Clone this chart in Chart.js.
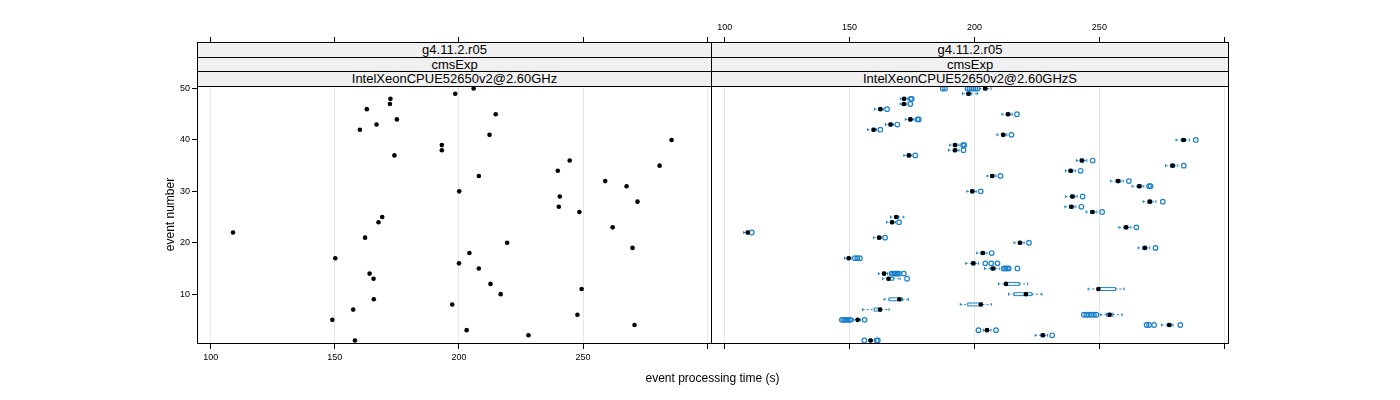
<!DOCTYPE html>
<html>
<head>
<meta charset="utf-8">
<script src="https://cdn.jsdelivr.net/npm/chart.js@4.4.0/dist/chart.umd.min.js"></script>
<style>
  body { margin: 0; background: #fff; }
  #wrap { position: relative; width: 1400px; height: 400px; font-family: "Liberation Sans", Arial, sans-serif; }
  #wrap canvas { position: absolute; left: 0; top: 0; }
  .strip { position: absolute; box-sizing: border-box; border: 1px solid #000; background: #f0f0f0;
           font-size: 13px; text-align: center; color: #000; }
  #xtitle { position: absolute; left: 197px; width: 1031px; top: 370px; font-size: 12px; line-height: 16px; text-align: center; }
</style>
</head>
<body>
<div id="wrap">
  <canvas id="left" width="1400" height="400"></canvas>
  <canvas id="right" width="1400" height="400"></canvas>
  <div id="strips"></div>
  <div id="xtitle">event processing time (s)</div>
</div>
<script>
// panel strip labels
var stripLevels = ['g4.11.2.r05', 'cmsExp'];
var cpuNames = ['IntelXeonCPUE52650v2@2.60GHz', 'IntelXeonCPUE52650v2@2.60GHzS'];

var events = [1, 2, 3, 4, 5, 6, 7, 8, 9, 10, 11, 12, 13, 14, 15, 16, 17, 18, 19, 20,
  21, 22, 23, 24, 25, 26, 27, 28, 29, 30, 31, 32, 33, 34, 35, 36, 37, 38, 39, 40,
  41, 42, 43, 44, 45, 46, 47, 48, 49, 50];

// left panel: one time per event
var singleTime = [158.1, 228.0, 203.1, 270.7, 149.0, 247.7, 157.4, 197.3, 165.7, 216.8,
  249.4, 212.7, 165.6, 164.0, 208.0, 200.0, 150.2, 204.2, 269.9, 219.4,
  162.2, 109.0, 261.9, 167.6, 169.1, 248.5, 240.2, 271.9, 240.6, 200.1,
  267.5, 258.9, 208.0, 239.8, 280.8, 244.6, 174.0, 193.1, 193.1, 285.6,
  212.3, 160.1, 166.8, 175.0, 214.8, 162.9, 172.2, 172.4, 198.5, 205.9];

// right panel: box plot stats per event
var whiskerLow = [157.6, 224.3, 203.6, 274.9, 151.6, 250.5, 155.2, 194.3, 163.8, 213.6,
  245.5, 209.6, 163.2, 161.5, 204.0, 196.5, 147.9, 200.9, 265.5, 215.8,
  159.6, 107.6, 257.8, 164.8, 166.4, 244.7, 236.2, 267.5, 236.4, 196.9,
  263.1, 254.5, 205.0, 236.4, 276.5, 240.8, 171.7, 189.6, 190.1, 280.7,
  209.0, 157.2, 164.3, 172.3, 211.0, 160.0, 170.2, 170.3, 195.2, 202.0];
var q1 = [158.1, 226.6, 204.5, 277.2, 152.7, 252.8, 159.8, 197.3, 165.8, 215.8,
  249.3, 212.3, 165.0, 163.2, 206.5, 198.8, 149.2, 202.6, 267.4, 217.5,
  161.2, 108.8, 259.9, 166.4, 168.0, 246.5, 238.0, 269.4, 238.4, 198.5,
  265.2, 256.7, 206.5, 237.8, 278.5, 242.3, 173.1, 191.5, 191.5, 282.9,
  210.8, 159.0, 165.8, 173.7, 212.7, 161.7, 171.3, 171.4, 196.9, 203.6];
var median = [158.4, 227.4, 205.0, 278.0, 153.2, 254.1, 162.2, 202.5, 169.9, 220.6,
  249.6, 212.6, 165.6, 163.8, 207.4, 199.5, 149.6, 203.3, 268.2, 218.2,
  161.8, 109.2, 260.7, 167.0, 168.7, 247.2, 238.8, 270.2, 239.2, 199.1,
  266.0, 257.5, 207.1, 238.5, 279.3, 243.0, 173.7, 192.2, 192.2, 283.7,
  211.5, 159.6, 166.4, 174.3, 213.4, 162.3, 171.7, 171.8, 197.6, 204.3];
var q3 = [158.8, 228.0, 205.6, 278.7, 153.8, 255.4, 162.7, 203.2, 171.1, 223.0,
  256.4, 217.9, 167.5, 164.4, 208.3, 200.3, 150.1, 204.0, 268.9, 218.9,
  162.3, 109.6, 261.4, 167.5, 169.4, 247.9, 239.5, 271.0, 240.0, 199.8,
  266.8, 258.3, 207.8, 239.3, 280.1, 243.8, 174.3, 192.9, 192.9, 284.5,
  212.2, 160.2, 167.0, 175.0, 214.2, 162.9, 172.2, 172.3, 198.6, 205.0];
var whiskerHigh = [159.2, 229.2, 206.6, 279.5, 154.4, 259.1, 165.8, 206.7, 173.5, 227.0,
  259.9, 221.3, 170.2, 165.2, 209.9, 201.6, 150.6, 205.0, 270.2, 219.9,
  162.9, 109.9, 262.6, 168.3, 171.7, 249.0, 240.6, 272.6, 241.1, 200.7,
  267.8, 259.5, 208.6, 240.4, 281.4, 245.0, 174.9, 193.8, 193.8, 286.0,
  213.0, 160.8, 167.6, 175.7, 215.1, 163.5, 172.9, 173.1, 201.2, 206.6];
var outliers = [
  [155.9, 160.8, 161.3], [231.1], [201.6, 208.6], [268.9, 269.9, 271.9, 282.4],
  [146.9, 147.6, 148.3, 149.0, 149.7, 150.4, 156.0], [243.8, 244.8, 245.8, 246.8, 247.8, 248.8],
  [], [], [], [], [], [], [173.0],
  [166.8, 167.4, 168.0, 168.6, 169.2, 169.8, 171.7], [211.7, 212.3, 213.0, 213.7, 217.2],
  [204.3, 206.7, 209.2], [152.1, 153.1, 154.1], [206.9], [272.5], [221.8],
  [164.2], [110.8], [264.8], [169.8], [], [251.1], [242.8], [275.4], [243.3], [202.5],
  [269.9, 270.5], [261.8], [210.4], [242.5], [283.8], [247.3], [176.3], [195.6], [195.4, 195.9], [288.6],
  [214.8], [162.3], [169.1], [177.2, 177.7], [217.0], [165.0], [174.3], [174.5, 174.9], [],
  [187.3, 188.2, 197.2, 198.0, 198.8, 199.6, 200.4, 201.2]
];

var xTicks = [100, 150, 200, 250, 300];
var yTicks = [10, 20, 30, 40, 50];
var xMin = 94.5, xMax = 301.5, yMin = 0.5, yMax = 50.5;

Chart.defaults.font.family = '"Liberation Sans", Arial, sans-serif';
Chart.defaults.color = '#000';

// strips as html
var strips = document.getElementById('strips');
var panelEdges = [[197, 712], [711, 1229]];
panelEdges.forEach(function (edge, p) {
  var texts = stripLevels.concat([cpuNames[p]]);
  texts.forEach(function (t, k) {
    var d = document.createElement('div');
    d.className = 'strip';
    d.style.left = edge[0] + 'px';
    d.style.width = (edge[1] - edge[0]) + 'px';
    d.style.top = (42 + k * 14.67) + 'px';
    d.style.height = '15.67px';
    d.style.lineHeight = '13.5px';
    d.textContent = t;
    strips.appendChild(d);
  });
});

function setTicks(list) {
  return function (s) { s.ticks = list.map(function (v) { return { value: v }; }); };
}
function labelsBut300(v) { return v === 300 ? '' : String(v); }
function noLabels() { return ''; }

var panelBox = {
  id: 'panelBox',
  afterDraw: function (chart) {
    var a = chart.chartArea, ctx = chart.ctx;
    ctx.save();
    ctx.strokeStyle = '#000';
    ctx.lineWidth = 1;
    ctx.strokeRect(Math.round(a.left) + 0.5, Math.round(a.top) + 0.5,
      Math.round(a.right - a.left), Math.round(a.bottom - a.top));
    ctx.restore();
  }
};

function xScale(position, labelFn, tickLen, showGrid) {
  return {
    type: 'linear', position: position, axis: 'x', min: xMin, max: xMax,
    afterBuildTicks: setTicks(xTicks),
    afterFit: function (s) { s.height = position === 'top' ? 86 : 57; },
    border: { display: false },
    grid: { drawOnChartArea: showGrid, color: '#e6e6e6', tickColor: '#000', tickLength: tickLen },
    ticks: { callback: labelFn, autoSkip: false, maxRotation: 0, font: { size: 9 }, padding: position === 'top' ? 4 : 3 }
  };
}

// left panel: single values
new Chart(document.getElementById('left'), {
  type: 'scatter',
  data: {
    datasets: [{
      data: events.map(function (e, i) { return { x: singleTime[i], y: e }; }),
      backgroundColor: '#000', borderColor: '#000', pointRadius: 2.3, borderWidth: 0
    }]
  },
  options: {
    responsive: false, animation: false,
    layout: { padding: { left: 163, right: 689, top: 0, bottom: 0 } },
    plugins: { legend: { display: false }, tooltip: { enabled: false } },
    scales: {
      x: xScale('bottom', labelsBut300, 6, true),
      x2: xScale('top', noLabels, 49, false),
      y: {
        type: 'linear', min: yMin, max: yMax,
        afterBuildTicks: setTicks(yTicks),
        afterFit: function (s) { s.width = 34; },
        border: { display: false },
        grid: { drawOnChartArea: false, tickColor: '#000', tickLength: 5 },
        ticks: { font: { size: 9 }, padding: 2 },
        title: { display: true, text: 'event number', font: { size: 12 }, padding: 0 }
      }
    }
  },
  plugins: [panelBox]
});

// right panel: box and whiskers
var boxPlugin = {
  id: 'boxes',
  beforeDatasetsDraw: function (chart) {
    var ctx = chart.ctx, x = chart.scales.x, y = chart.scales.y;
    ctx.save();
    ctx.strokeStyle = '#1a80cc';
    ctx.lineWidth = 1;
    events.forEach(function (e, i) {
      var py = y.getPixelForValue(e);
      var h = Math.abs(y.getPixelForValue(e + 0.28) - py);
      var lo = x.getPixelForValue(whiskerLow[i]), a = x.getPixelForValue(q1[i]);
      var b = x.getPixelForValue(q3[i]), hi = x.getPixelForValue(whiskerHigh[i]);
      ctx.setLineDash([]);
      ctx.strokeRect(a, py - h, b - a, 2 * h);
      ctx.beginPath();
      ctx.moveTo(lo, py - h); ctx.lineTo(lo, py + h);
      ctx.moveTo(hi, py - h); ctx.lineTo(hi, py + h);
      ctx.stroke();
      ctx.setLineDash([2, 2]);
      ctx.beginPath();
      ctx.moveTo(lo, py); ctx.lineTo(a, py);
      ctx.moveTo(b, py); ctx.lineTo(hi, py);
      ctx.stroke();
    });
    ctx.restore();
  }
};

var outlierPoints = [];
events.forEach(function (e, i) {
  outliers[i].forEach(function (v) { outlierPoints.push({ x: v, y: e }); });
});

new Chart(document.getElementById('right'), {
  type: 'scatter',
  data: {
    datasets: [{
      data: events.map(function (e, i) { return { x: median[i], y: e }; }),
      backgroundColor: '#000', borderColor: '#000', pointRadius: 2.3, borderWidth: 0
    }, {
      data: outlierPoints,
      backgroundColor: 'rgba(0,0,0,0)', borderColor: '#1a80cc', pointRadius: 2.3, borderWidth: 1.2
    }]
  },
  options: {
    responsive: false, animation: false,
    layout: { padding: { left: 711, right: 172, top: 0, bottom: 0 } },
    plugins: { legend: { display: false }, tooltip: { enabled: false } },
    scales: {
      x: xScale('bottom', noLabels, 6, true),
      x2: xScale('top', labelsBut300, 49, false),
      y: { type: 'linear', min: yMin, max: yMax, display: false }
    }
  },
  plugins: [boxPlugin, panelBox]
});
</script>
</body>
</html>
